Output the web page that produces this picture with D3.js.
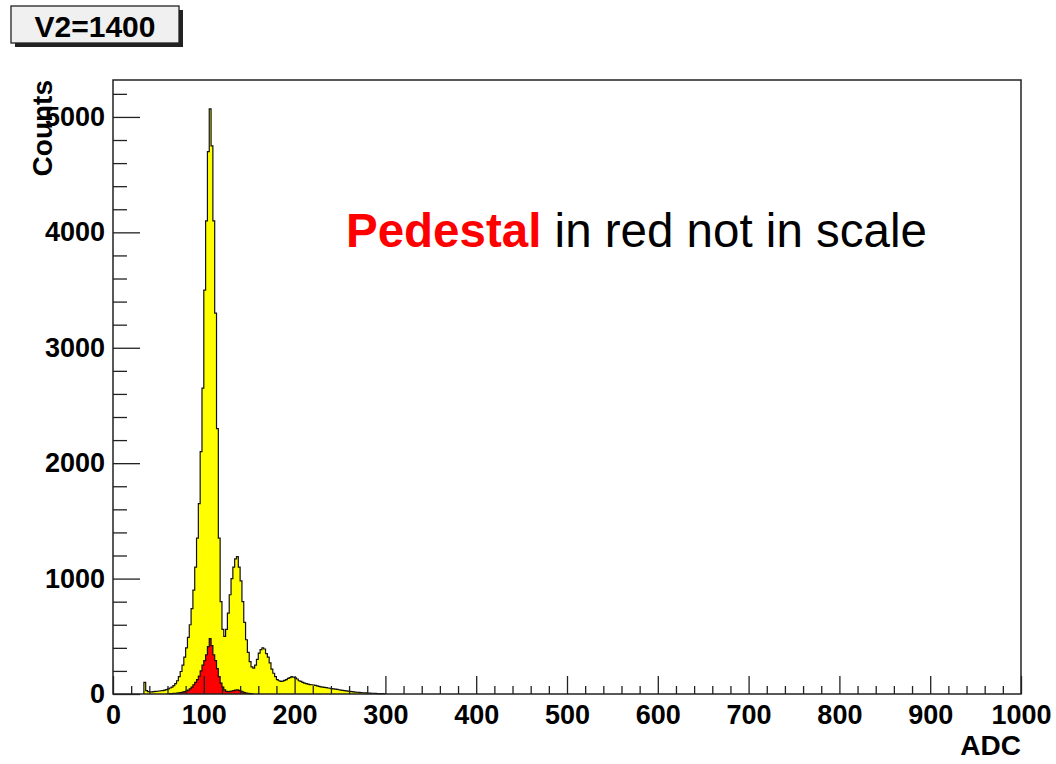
<!DOCTYPE html>
<html>
<head>
<meta charset="utf-8">
<script src="https://cdn.jsdelivr.net/npm/d3@7"></script>
<style>
  html, body { margin: 0; padding: 0; background: #fff; }
  svg { display: block; }
  text { font-family: "Liberation Sans", Arial, Helvetica, sans-serif; }
</style>
</head>
<body>
<svg id="chart" width="1056" height="764"></svg>
<script>
// ADC spectrum at V2=1400: signal histogram (yellow) and pedestal (red), 2-count bins
const binWidth = 2;
const signalFirstBin = 34;
const signalCounts = [
  100, 30, 20, 18, 18, 20, 22, 24, 26, 28,
  30, 34, 38, 44, 52, 60, 72, 90, 115, 150,
  195, 250, 320, 400, 490, 600, 740, 900, 1100, 1350,
  1650, 2100, 2650, 3500, 4100, 4700, 5070, 4750, 4100, 3300,
  2300, 1350, 800, 560, 500, 560, 700, 860, 1000, 1100,
  1170, 1190, 1100, 980, 800, 620, 470, 360, 280, 235,
  225, 250, 300, 355, 385, 400, 390, 350, 320, 270,
  215, 180, 150, 125, 115, 110, 112, 118, 125, 135,
  142, 150, 145, 140, 130, 115, 110, 100, 95, 90,
  86, 82, 80, 78, 74, 70, 66, 62, 60, 57,
  55, 52, 50, 47, 45, 42, 40, 37, 34, 32,
  30, 27, 25, 22, 20, 18, 17, 15, 14, 12,
  11, 10, 9, 8, 7, 6, 5, 5, 4, 4,
  3, 3, 2
];
const pedestalFirstBin = 62;
const pedestalCounts = [
  3, 4, 5, 6, 8, 10, 12, 16, 20, 26,
  34, 45, 60, 80, 100, 125, 155, 200, 250, 290,
  340, 410, 480, 420, 340, 290, 220, 150, 95, 60,
  35, 22, 20, 22, 26, 30, 34, 35, 32, 25,
  18, 12, 8, 5, 3, 2
];
const xMajorTicks = [0, 100, 200, 300, 400, 500, 600, 700, 800, 900, 1000];
const yMajorTicks = [0, 1000, 2000, 3000, 4000, 5000];
const xDomain = [0, 1000];
const yDomain = [0, 5320];
const titleText = "V2=1400";
const xTitle = "ADC";
const yTitle = "Counts";

const svg = d3.select("#chart");
const frame = { left: 113, right: 1021, top: 80, bottom: 694 };

const x = d3.scaleLinear().domain(xDomain).range([frame.left, frame.right]);
const y = d3.scaleLinear().domain(yDomain).range([frame.bottom, frame.top]);

// Turn bin contents into the outline of a step histogram
function stepPoints(counts, start) {
  const pts = [[start, 0]];
  counts.forEach((c, i) => {
    const lo = start + i * binWidth;
    pts.push([lo, c], [lo + binWidth, c]);
  });
  pts.push([start + counts.length * binWidth, 0]);
  return pts;
}

const area = d3.area().x(d => x(d[0])).y0(y(0)).y1(d => y(d[1]));
const line = d3.line().x(d => x(d[0])).y(d => y(d[1]));

const hist = svg.append("g");
[
  [signalCounts, signalFirstBin, "#ffff00"],
  [pedestalCounts, pedestalFirstBin, "#ff0000"]
].forEach(([counts, start, color]) => {
  const pts = stepPoints(counts, start);
  hist.append("path").attr("d", area(pts)).attr("fill", color).attr("stroke", "none");
  hist.append("path").attr("d", line(pts)).attr("fill", "none")
    .attr("stroke", "#111").attr("stroke-width", 1.2).attr("stroke-linejoin", "miter");
});

// Frame
svg.append("rect")
  .attr("x", frame.left).attr("y", frame.top)
  .attr("width", frame.right - frame.left).attr("height", frame.bottom - frame.top)
  .attr("fill", "none").attr("stroke", "#222").attr("stroke-width", 1.5);

// Minor ticks
const xMinor = d3.range(0, 1001, 20).filter(v => v % 100 !== 0);
const yMinor = d3.range(0, 5321, 200).filter(v => v % 1000 !== 0);

function styleAxis(g) {
  g.select(".domain").remove();
  g.selectAll(".tick line").attr("stroke", "#222").attr("stroke-width", 1.3);
  g.selectAll(".tick text")
    .attr("font-family", '"Liberation Sans", Arial, Helvetica, sans-serif')
    .attr("font-size", 27).attr("font-weight", "bold").attr("fill", "#000");
}

svg.append("g").attr("transform", `translate(0,${frame.bottom})`)
  .call(d3.axisBottom(x).tickValues(xMinor).tickSize(-8).tickFormat(""))
  .call(styleAxis);
svg.append("g").attr("transform", `translate(0,${frame.bottom})`)
  .call(d3.axisBottom(x).tickValues(xMajorTicks).tickSize(-18).tickPadding(11).tickFormat(d3.format("d")))
  .call(styleAxis)
  .call(g => g.selectAll(".tick text").attr("dy", "0.71em"));

svg.append("g").attr("transform", `translate(${frame.left},0)`)
  .call(d3.axisLeft(y).tickValues(yMinor).tickSize(-14).tickFormat(""))
  .call(styleAxis);
svg.append("g").attr("transform", `translate(${frame.left},0)`)
  .call(d3.axisLeft(y).tickValues(yMajorTicks).tickSize(-27).tickPadding(8).tickFormat(d3.format("d")))
  .call(styleAxis);

// Axis titles
svg.append("text")
  .attr("x", frame.right).attr("y", 755)
  .attr("text-anchor", "end")
  .attr("font-size", 28).attr("font-weight", "bold")
  .text(xTitle);
svg.append("text")
  .attr("transform", `translate(52,${frame.top}) rotate(-90)`)
  .attr("text-anchor", "end")
  .attr("font-size", 28).attr("font-weight", "bold")
  .text(yTitle);

// Title box with drop shadow
const tb = { x: 11, y: 6, w: 168, h: 37, shadow: 4 };
svg.append("rect")
  .attr("x", tb.x + tb.shadow).attr("y", tb.y + tb.shadow)
  .attr("width", tb.w).attr("height", tb.h).attr("fill", "#222");
svg.append("rect")
  .attr("x", tb.x).attr("y", tb.y).attr("width", tb.w).attr("height", tb.h)
  .attr("fill", "#f0f0f0").attr("stroke", "#222").attr("stroke-width", 1.3);
svg.append("text")
  .attr("x", tb.x + tb.w / 2).attr("y", 37)
  .attr("text-anchor", "middle")
  .attr("font-size", 30).attr("font-weight", "bold")
  .text(titleText);

// Annotation
const note = svg.append("text")
  .attr("x", 346).attr("y", 247)
  .attr("font-size", 47.5);
note.append("tspan").attr("fill", "#ff0000").attr("font-weight", "bold").text("Pedestal");
note.append("tspan").attr("fill", "#000").text(" in red not in scale");
</script>
</body>
</html>
